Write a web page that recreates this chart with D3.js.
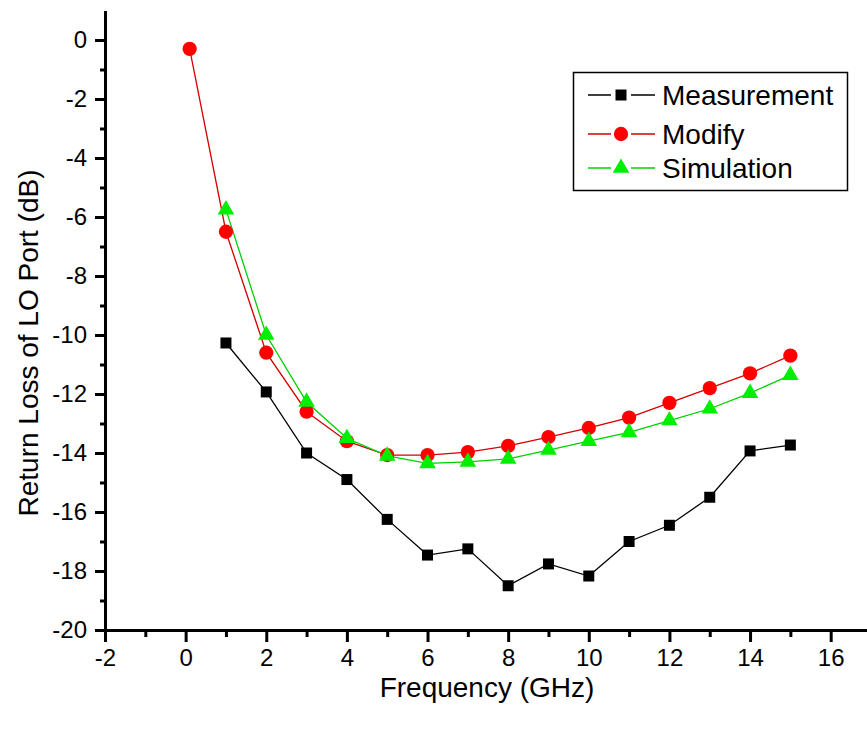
<!DOCTYPE html>
<html>
<head>
<meta charset="utf-8">
<script src="https://cdn.jsdelivr.net/npm/d3@7"></script>
<style>
  body { margin: 0; background: #fff; }
  text { font-family: "Liberation Sans", Arial, sans-serif; fill: #000; }
</style>
</head>
<body>
<div class="chart"></div>
<script>
// data
var freqMeas = [1, 2, 3, 4, 5, 6, 7, 8, 9, 10, 11, 12, 13, 14, 15];
var measurement = [-10.27, -11.93, -14.0, -14.9, -16.25, -17.46, -17.25, -18.5, -17.76, -18.17, -17.0, -16.45, -15.5, -13.93, -13.73];

var freqMod = [0.1, 1, 2, 3, 4, 5, 6, 7, 8, 9, 10, 11, 12, 13, 14, 15];
var modify = [-0.3, -6.5, -10.6, -12.6, -13.6, -14.07, -14.07, -13.97, -13.76, -13.46, -13.15, -12.8, -12.3, -11.8, -11.3, -10.7];

var freqSim = [1, 2, 3, 4, 5, 6, 7, 8, 9, 10, 11, 12, 13, 14, 15];
var simulation = [-5.75, -10.0, -12.27, -13.5, -14.1, -14.35, -14.3, -14.2, -13.9, -13.6, -13.3, -12.9, -12.5, -11.97, -11.36];

var xMajor = [-2, 0, 2, 4, 6, 8, 10, 12, 14, 16];
var xMinor = [-1, 1, 3, 5, 7, 9, 11, 13, 15];
var yMajor = [0, -2, -4, -6, -8, -10, -12, -14, -16, -18, -20];
var yMinor = [-1, -3, -5, -7, -9, -11, -13, -15, -17, -19];

var seriesNames = ["Measurement", "Modify", "Simulation"];

var width = 867, height = 730;

var svg = d3.select(".chart").append("svg")
    .attr("width", width)
    .attr("height", height);

var xScale = d3.scaleLinear().domain([-2, 17]).range([105, 871]);
var yScale = d3.scaleLinear().domain([-20, 1]).range([630, 10.5]);

var series = [
    { name: seriesNames[0], xs: freqMeas, ys: measurement, line: "#000000", fill: "#000000", shape: d3.symbolSquare, size: 121 },
    { name: seriesNames[1], xs: freqMod, ys: modify, line: "#d40000", fill: "#ff0000", shape: d3.symbolCircle, size: 160 },
    { name: seriesNames[2], xs: freqSim, ys: simulation, line: "#00d000", fill: "#00ee00", shape: d3.symbolTriangle, size: 120 }
];

var line = d3.line()
    .x(d => xScale(d[0]))
    .y(d => yScale(d[1]));

var plot = svg.append("g");

series.forEach(function(s) {
    var pts = s.xs.map((x, i) => [x, s.ys[i]]);
    plot.append("path")
        .attr("d", line(pts))
        .attr("fill", "none")
        .attr("stroke", s.line)
        .attr("stroke-width", 1.3);
});

series.forEach(function(s) {
    var pts = s.xs.map((x, i) => [x, s.ys[i]]);
    plot.append("g")
        .selectAll("path")
        .data(pts)
        .join("path")
        .attr("transform", d => `translate(${xScale(d[0])},${yScale(d[1])})`)
        .attr("d", d3.symbol().type(s.shape).size(s.size))
        .attr("fill", s.fill);
});

// axes
function styleAxis(g) {
    g.select(".domain").attr("stroke-width", 3).attr("stroke", "#000");
    g.selectAll(".tick line").attr("stroke-width", 3).attr("stroke", "#000");
    g.selectAll(".tick text")
        .style("font-size", "24px")
        .style("font-family", "'Liberation Sans', Arial, sans-serif")
        .attr("fill", "#000");
}

svg.append("g")
    .attr("transform", "translate(0,630)")
    .call(d3.axisBottom(xScale).tickValues(xMinor).tickSize(7).tickFormat("").tickSizeOuter(0))
    .call(styleAxis);

svg.append("g")
    .attr("transform", "translate(0,630)")
    .call(d3.axisBottom(xScale).tickValues(xMajor).tickSize(12).tickPadding(7).tickSizeOuter(0).tickFormat(d3.format("d")))
    .call(styleAxis)
    .call(g => g.selectAll(".tick text").text(d => d < 0 ? "-" + Math.abs(d) : d));

svg.append("g")
    .attr("transform", "translate(105,0)")
    .call(d3.axisLeft(yScale).tickValues(yMinor).tickSize(5).tickFormat("").tickSizeOuter(0))
    .call(styleAxis);

svg.append("g")
    .attr("transform", "translate(105,0)")
    .call(d3.axisLeft(yScale).tickValues(yMajor).tickSize(10).tickPadding(8).tickSizeOuter(0))
    .call(styleAxis)
    .call(g => g.selectAll(".tick text").text(d => d < 0 ? "-" + Math.abs(d) : d));

// axis titles
svg.append("text")
    .attr("x", 487)
    .attr("y", 697)
    .attr("text-anchor", "middle")
    .style("font-size", "28px")
    .text("Frequency (GHz)");

svg.append("text")
    .attr("transform", "translate(38,343) rotate(-90)")
    .attr("text-anchor", "middle")
    .style("font-size", "28px")
    .text("Return Loss of LO Port (dB)");

// legend
var legend = svg.append("g");
legend.append("rect")
    .attr("x", 573.5)
    .attr("y", 72.5)
    .attr("width", 274)
    .attr("height", 118)
    .attr("fill", "#fff")
    .attr("stroke", "#000")
    .attr("stroke-width", 1.5);

var legendY = [95, 134, 168];
series.forEach(function(s, i) {
    var row = legend.append("g").attr("transform", `translate(0,${legendY[i]})`);
    row.append("line")
        .attr("x1", 588).attr("x2", 655)
        .attr("stroke", s.line)
        .attr("stroke-width", 1.3);
    row.append("rect")
        .attr("x", 611).attr("y", -8).attr("width", 20).attr("height", 16)
        .attr("fill", "#fff");
    row.append("path")
        .attr("transform", "translate(621,0)")
        .attr("d", d3.symbol().type(s.shape).size(s.size))
        .attr("fill", s.fill);
    row.append("text")
        .attr("x", 662)
        .attr("y", 10)
        .style("font-size", "28px")
        .text(s.name);
});
</script>
</body>
</html>
